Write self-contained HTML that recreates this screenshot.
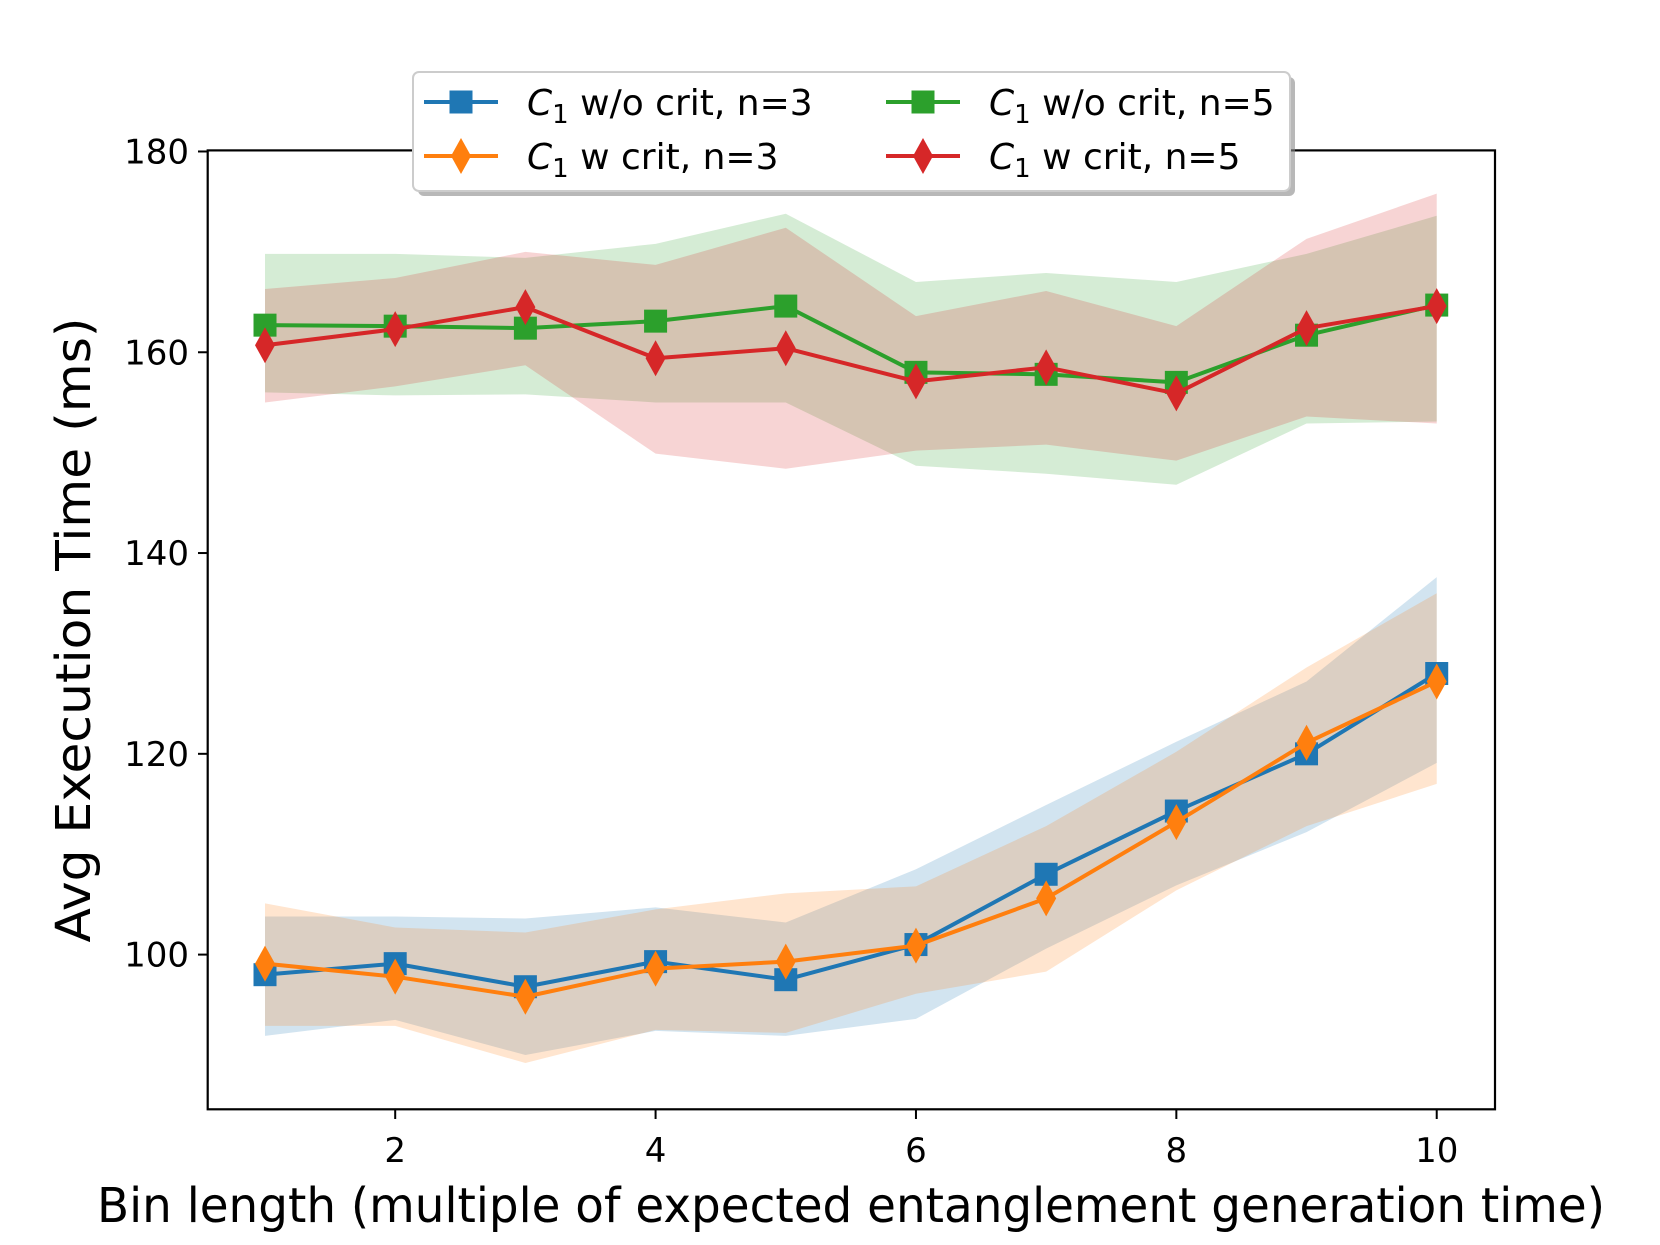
<!DOCTYPE html>
<html><head><meta charset="utf-8"><style>
html,body{margin:0;padding:0;background:#fff}
svg{display:block}
text{font-family:"DejaVu Sans","Liberation Sans",sans-serif;fill:#000}
</style></head><body>
<svg id="s" width="1660" height="1245" viewBox="0 0 1660 1245" xmlns="http://www.w3.org/2000/svg"></svg>
<script>
const s=document.getElementById('s');
const X=v=>395.2+(v-2)*130.19, Y=v=>954.6-(v-100)*10.039;
let h='';
const xs=[1,2,3,4,5,6,7,8,9,10];
const S={
blue:{c:'#1f77b4',m:'s',d:[98,99.1,96.8,99.3,97.5,101,108,114.3,120,128],
 u:[103.8,103.8,103.6,104.7,103.2,108.5,114.9,121.2,127.2,137.6],l:[91.9,93.5,90.0,92.4,91.9,93.6,100.6,106.9,112.2,119.1]},
orange:{c:'#ff7f0e',m:'d',d:[99.1,97.8,95.8,98.6,99.3,100.9,105.6,113.2,121.1,127.2],
 u:[105.1,102.7,102.2,104.5,106.1,106.8,112.8,120.2,128.6,136],l:[92.9,92.9,89.2,92.5,92.2,96.1,98.3,106.4,112.8,117]},
green:{c:'#2ca02c',m:'s',d:[162.7,162.6,162.4,163.1,164.6,158,157.8,157,161.7,164.7],
 u:[169.8,169.8,169.4,170.8,173.8,167.0,167.9,167.0,169.8,173.6],l:[156,155.7,155.8,155,155,148.7,147.9,146.8,152.9,153.1]},
red:{c:'#d62728',m:'d',d:[160.7,162.3,164.5,159.4,160.4,157.1,158.5,155.9,162.4,164.6],
 u:[166.3,167.4,170,168.7,172.4,163.6,166.1,162.6,171.3,175.8],l:[155,156.6,158.7,149.9,148.4,150.2,150.8,149.2,153.6,152.9]}};
const order=['blue','orange','green','red'];
function mk(m,x,y,c){
 if(m==='s')return `<rect x="${x-11.5}" y="${y-11.5}" width="23" height="23" fill="${c}"/>`;
 return `<polygon points="${x},${y-18} ${x+10},${y} ${x},${y+18} ${x-10},${y}" fill="${c}"/>`;
}
for(const k of order){const o=S[k];
 let p=xs.map((x,i)=>X(x)+','+Y(o.u[i])).join(' ')+' '+xs.slice().reverse().map((x,j)=>{const i=9-j;return X(x)+','+Y(o.l[i])}).join(' ');
 h+=`<polygon points="${p}" fill="${o.c}" fill-opacity="0.2"/>`;}
for(const k of order){const o=S[k];
 h+=`<polyline points="${xs.map((x,i)=>X(x)+','+Y(o.d[i])).join(' ')}" fill="none" stroke="${o.c}" stroke-width="4" stroke-linejoin="round"/>`;
 xs.forEach((x,i)=>h+=mk(o.m,X(x),Y(o.d[i]),o.c));}
h+=`<rect x="207.7" y="150.4" width="1287.3" height="958.9" fill="none" stroke="#000" stroke-width="2.2"/>`;
for(let v=2;v<=10;v+=2){h+=`<line x1="${X(v)}" y1="1109.3" x2="${X(v)}" y2="1119" stroke="#000" stroke-width="2"/><text x="${X(v)}" y="1162" font-size="34" text-anchor="middle">${v}</text>`;}
for(let v=100;v<=180;v+=20){h+=`<line x1="198" y1="${Y(v)}" x2="207.7" y2="${Y(v)}" stroke="#000" stroke-width="2"/><text x="189" y="${Y(v)+12}" font-size="34" text-anchor="end">${v}</text>`;}
h+=`<text x="851" y="1222" font-size="48" text-anchor="middle" textLength="1508" lengthAdjust="spacingAndGlyphs">Bin length (multiple of expected entanglement generation time)</text>`;
h+=`<text transform="translate(90,630) rotate(-90)" font-size="48" text-anchor="middle" textLength="625" lengthAdjust="spacingAndGlyphs">Avg Execution Time (ms)</text>`;
h+=`<rect x="418" y="77" width="877" height="119" rx="6" fill="#888" opacity="0.6"/>`;
h+=`<rect x="413" y="72" width="877" height="119" rx="6" fill="#fff" stroke="#ccc" stroke-width="2"/>`;
const L=[['blue',461,102,'w/o crit, n=3'],['orange',461,156,'w crit, n=3'],['green',923,102,'w/o crit, n=5'],['red',923,156,'w crit, n=5']];
for(const [k,x,y,t] of L){const c=S[k].c;
 h+=`<line x1="${x-37}" y1="${y}" x2="${x+37}" y2="${y}" stroke="${c}" stroke-width="4"/>`+mk(S[k].m,x,y,c);
 h+=`<text x="${x+66}" y="${y+13}" font-size="36"><tspan font-style="italic">C</tspan><tspan font-size="26" dy="8">1</tspan><tspan dy="-8"> ${t}</tspan></text>`;}
s.innerHTML=h;
</script>
</body></html>
